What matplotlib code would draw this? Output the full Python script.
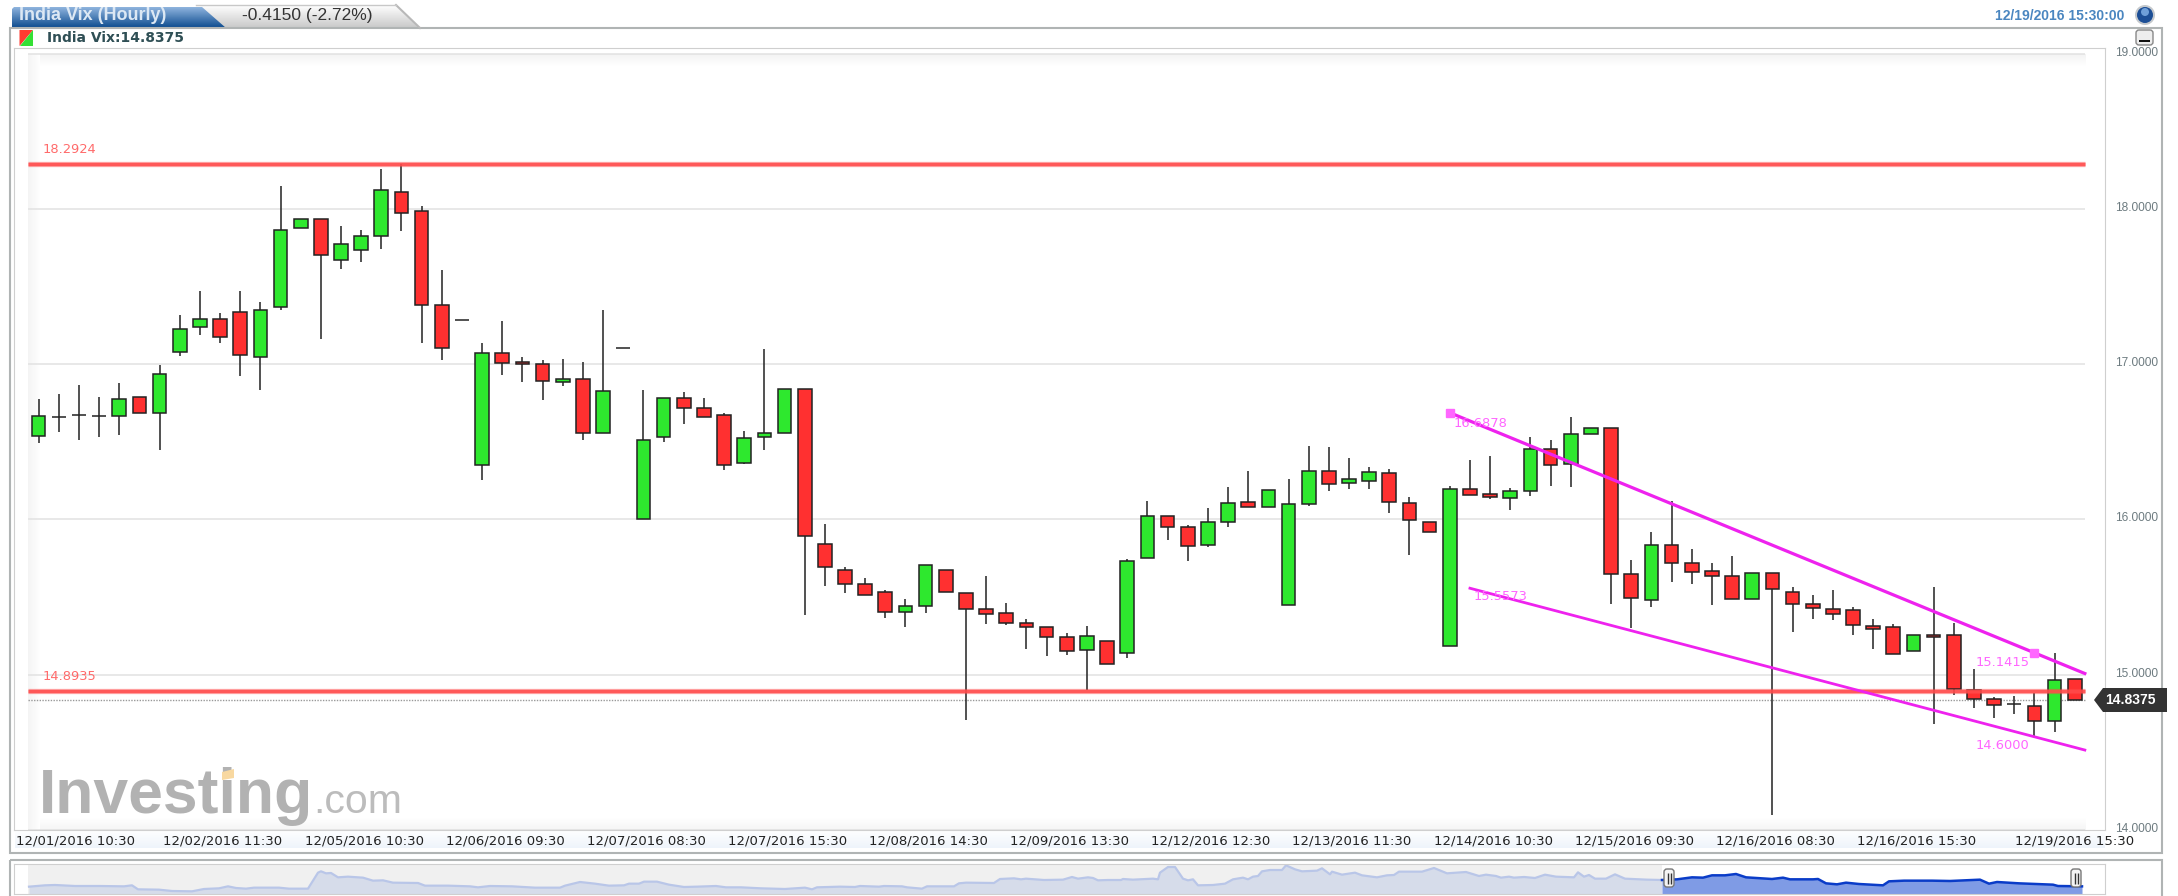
"""India Vix hourly candlesticks with support/resistance levels and a navigator strip."""
import matplotlib
matplotlib.use("Agg")
import matplotlib.pyplot as plt
import numpy as np
from matplotlib.colors import to_rgb
from matplotlib.patches import Circle, FancyBboxPatch, Polygon, Rectangle
from matplotlib.transforms import ScaledTranslation

W, H = 2178, 896

candle_open = [
    16.535, 16.660, 16.671, 16.665, 16.667, 16.789, 16.686, 17.082, 17.241, 17.292,
    17.335, 17.045, 17.366, 17.875, 17.933, 17.673, 17.738, 17.826, 18.110, 17.985,
    17.381, 17.286, 16.351, 17.073, 17.015, 17.002, 16.884, 16.908, 16.557, 17.105,
    16.000, 16.529, 16.783, 16.718, 16.674, 16.367, 16.534, 16.556, 16.839, 15.843,
    15.676, 15.582, 15.530, 15.406, 15.442, 15.676, 15.524, 15.421, 15.399, 15.333,
    15.305, 15.240, 15.159, 15.219, 15.137, 15.755, 16.024, 15.951, 15.835, 15.987,
    16.112, 16.082, 15.451, 16.097, 16.315, 16.234, 16.251, 16.300, 16.105, 15.985,
    15.184, 16.197, 16.167, 16.139, 16.184, 16.457, 16.355, 16.551, 16.588, 15.647,
    15.481, 15.835, 15.718, 15.667, 15.639, 15.487, 15.654, 15.530, 15.457, 15.421,
    15.415, 15.312, 15.306, 15.152, 15.256, 15.254, 14.900, 14.842, 14.812, 14.797,
    14.705, 14.972,
]
candle_high = [
    16.776, 16.806, 16.869, 16.789, 16.880, 16.789, 16.996, 17.320, 17.469, 17.331,
    17.469, 17.400, 18.148, 17.933, 17.933, 17.890, 17.862, 18.256, 18.288, 18.017,
    17.604, 17.286, 17.138, 17.280, 17.047, 17.026, 17.034, 17.017, 17.348, 17.105,
    16.837, 16.783, 16.824, 16.783, 16.685, 16.573, 17.101, 16.839, 16.839, 15.970,
    15.697, 15.620, 15.543, 15.487, 15.706, 15.676, 15.524, 15.637, 15.461, 15.358,
    15.305, 15.268, 15.311, 15.219, 15.747, 16.116, 16.024, 15.966, 16.077, 16.208,
    16.311, 16.193, 16.262, 16.474, 16.470, 16.395, 16.339, 16.326, 16.148, 15.985,
    16.214, 16.385, 16.412, 16.205, 16.530, 16.509, 16.662, 16.588, 16.588, 15.739,
    15.917, 16.120, 15.810, 15.718, 15.765, 15.654, 15.654, 15.568, 15.515, 15.545,
    15.436, 15.361, 15.327, 15.254, 15.564, 15.333, 15.034, 14.857, 14.863, 14.880,
    15.141, 14.972,
]
candle_low = [
    16.492, 16.561, 16.510, 16.531, 16.542, 16.686, 16.449, 17.052, 17.191, 17.138,
    16.923, 16.832, 17.348, 17.875, 17.163, 17.611, 17.660, 17.740, 17.858, 17.138,
    17.026, 17.286, 16.252, 16.933, 16.884, 16.772, 16.858, 16.514, 16.557, 17.105,
    16.000, 16.499, 16.617, 16.658, 16.320, 16.358, 16.449, 16.556, 15.386, 15.573,
    15.526, 15.515, 15.365, 15.307, 15.397, 15.530, 14.706, 15.324, 15.318, 15.165,
    15.122, 15.127, 14.903, 15.071, 15.107, 15.755, 15.869, 15.730, 15.822, 15.951,
    16.082, 16.082, 15.451, 16.088, 16.182, 16.197, 16.197, 16.045, 15.773, 15.919,
    15.184, 16.158, 16.135, 16.060, 16.150, 16.214, 16.209, 16.551, 15.457, 15.301,
    15.438, 15.600, 15.583, 15.447, 15.487, 15.487, 14.098, 15.274, 15.361, 15.355,
    15.259, 15.167, 15.132, 15.152, 14.682, 14.870, 14.788, 14.724, 14.750, 14.607,
    14.632, 14.8375,
]
candle_close = [
    16.665, 16.660, 16.671, 16.665, 16.776, 16.686, 16.935, 17.228, 17.292, 17.176,
    17.060, 17.348, 17.862, 17.933, 17.701, 17.774, 17.826, 18.123, 17.976, 17.381,
    17.103, 17.286, 17.073, 17.009, 17.002, 16.892, 16.908, 16.557, 16.826, 17.105,
    16.514, 16.783, 16.716, 16.658, 16.352, 16.526, 16.556, 16.839, 15.895, 15.691,
    15.582, 15.515, 15.401, 15.442, 15.706, 15.530, 15.421, 15.391, 15.333, 15.305,
    15.240, 15.152, 15.247, 15.071, 15.734, 16.024, 15.951, 15.828, 15.987, 16.105,
    16.082, 16.193, 16.097, 16.315, 16.227, 16.260, 16.309, 16.112, 15.996, 15.919,
    16.197, 16.158, 16.145, 16.182, 16.451, 16.348, 16.551, 16.588, 15.647, 15.494,
    15.835, 15.718, 15.660, 15.639, 15.487, 15.654, 15.551, 15.457, 15.429, 15.391,
    15.318, 15.297, 15.132, 15.254, 15.241, 14.906, 14.842, 14.806, 14.812, 14.699,
    14.966, 14.8375,
]

y_ticks = [14, 15, 16, 17, 18, 19]
x_tick_pos = [1.85, 9.15, 16.15, 23.15, 30.15, 37.15, 44.15, 51.15, 58.15, 65.15,
              72.15, 79.15, 86.15, 93.15, 101]
x_tick_labels = [
    "12/01/2016 10:30", "12/02/2016 11:30", "12/05/2016 10:30", "12/06/2016 09:30",
    "12/07/2016 08:30", "12/07/2016 15:30", "12/08/2016 14:30", "12/09/2016 13:30",
    "12/12/2016 12:30", "12/13/2016 11:30", "12/14/2016 10:30", "12/15/2016 09:30",
    "12/16/2016 08:30", "12/16/2016 15:30", "12/19/2016 15:30",
]

resistance = 18.2924
support = 14.8935
last_price = 14.8375

upper_x = [70, 101.5]
upper_y = [16.6878, 15.008]
upper_marker_x = [70, 99]
upper_marker_y = [16.6878, 15.1415]
lower_x = [71, 101.5]
lower_y = [15.5573, 14.515]

# navigator strip, y read as position in the strip (smaller is higher)
nav_x = [
    29, 45, 55, 75, 100, 124, 132, 138, 159, 172, 192, 204, 219, 228, 236, 246, 254, 279,
    289, 308, 318, 321, 326, 331, 338, 348, 363, 373, 383, 393, 418, 425, 448, 470, 478,
    490, 512, 535, 560, 565, 580, 595, 609, 624, 629, 639, 644, 657, 669, 684, 697, 716,
    726, 741, 761, 785, 805, 812, 817, 840, 855, 860, 879, 884, 902, 907, 922, 927, 954,
    959, 966, 994, 1000, 1014, 1021, 1026, 1044, 1063, 1072, 1078, 1088, 1093, 1098, 1108,
    1121, 1123, 1133, 1153, 1158, 1160, 1168, 1175, 1183, 1188, 1193, 1198, 1213, 1225,
    1233, 1243, 1248, 1253, 1258, 1262, 1270, 1282, 1286, 1295, 1302, 1317, 1322, 1330,
    1332, 1342, 1355, 1362, 1377, 1387, 1394, 1399, 1422, 1434, 1447, 1466, 1479, 1486,
    1496, 1501, 1509, 1514, 1524, 1535, 1545, 1556, 1574, 1578, 1584, 1589, 1595, 1606,
    1615, 1625, 1647, 1662, 1677, 1692, 1703, 1712, 1725, 1736, 1746, 1772, 1783, 1790,
    1813, 1818, 1826, 1837, 1846, 1859, 1883, 1889, 1904, 1932, 1950, 1980, 1989, 1997,
    2019, 2053, 2058, 2082,
]
nav_y = [
    92, 88, 87, 90, 90, 91, 88, 100, 101, 105, 106, 99, 97, 91, 96, 98, 95, 95,
    98, 98, 50, 46, 52, 51, 64, 62, 65, 74, 73, 80, 81, 89, 89, 91, 94,
    90, 91, 95, 95, 89, 78, 83, 89, 88, 83, 83, 77, 77, 86, 93, 92, 90,
    94, 94, 97, 99, 95, 100, 94, 92, 93, 90, 92, 90, 91, 94, 98, 91, 91,
    82, 80, 81, 69, 67, 70, 68, 72, 71, 63, 68, 64, 66, 73, 72,
    72, 69, 71, 68, 70, 50, 33, 33, 68, 73, 70, 88, 87, 83,
    70, 65, 70, 62, 60, 46, 42, 42, 28, 40, 46, 44, 37, 55,
    47, 56, 50, 58, 64, 58, 57, 47, 47, 36, 52, 48, 60, 56,
    60, 65, 62, 65, 63, 66, 56, 62, 64, 49, 62, 57, 68, 68,
    55, 68, 71, 72, 70, 64, 65, 58, 58, 54, 64, 69, 65, 70,
    70, 69, 82, 85, 80, 84, 88, 76, 74, 74, 75, 71, 83, 78,
    82, 86, 90, 91,
]
nav_split = 1662

GREEN = "#2ee82e"
RED = "#ff3030"
EDGE = "#222222"
MAGENTA = "#ee22ee"
PINK = "#ff66ff"
LEVEL = "#ff4a4a"


def px_axes(fig, left, top, right, bottom, **kw):
    return fig.add_axes([left / W, 1 - bottom / H, (right - left) / W, (bottom - top) / H], **kw)


def gradient(ax, left, top, right, bottom, c0, c1, horizontal=False, clip=None):
    t = np.linspace(0, 1, 64)
    rgb = np.outer(1 - t, to_rgb(c0)) + np.outer(t, to_rgb(c1))
    img = rgb[np.newaxis, :, :] if horizontal else rgb[:, np.newaxis, :]
    im = ax.imshow(img, extent=(left, right, bottom, top), aspect="auto", zorder=1,
                   interpolation="bilinear")
    if clip is not None:
        im.set_clip_path(clip)
    return im


fig = plt.figure(figsize=(W / 100, H / 100), dpi=100, facecolor="white")

# ── page furniture in pixel coordinates, under the chart ─────────────────────
bg = px_axes(fig, 0, 0, W, H, zorder=0)
bg.axis("off")

bg.add_patch(Rectangle((10, 28), 2152, 825, fill=False, ec="#b0b4b4", lw=1.5, zorder=2))
bg.add_patch(Rectangle((10, 860), 2152, 60, fill=False, ec="#b0b4b4", lw=1.5, zorder=2))

gradient(bg, 15, 830, 2105, 848, "#ffffff", "#eef4fb")
gradient(bg, 14, 54, 2086, 66, "#f3f3f3", "#ffffff")
gradient(bg, 14, 818, 2086, 830, "#ffffff", "#f5f5f5")
gradient(bg, 27, 54, 40, 830, "#f3f3f3", "#ffffff", horizontal=True)
bg.add_patch(Rectangle((14, 48), 14, 782, fc="white", ec="none", zorder=1.5))

tab2 = Polygon([(196, 5), (396, 5), (420, 28), (196, 28)], closed=True, transform=bg.transData)
gradient(bg, 196, 5, 420, 28, "#ffffff", "#c8c8c8", clip=tab2)
bg.plot([396, 420], [5, 28], color="#b8b8b8", lw=1.5, zorder=2)
bg.plot([196, 396], [5, 5], color="#c8c8c8", lw=1, zorder=2)
tab1 = Polygon([(12, 28), (12, 9), (14, 7), (202, 7), (226, 28)], closed=True, transform=bg.transData)
gradient(bg, 12, 7, 226, 28, "#8fb4de", "#0b4a8e", clip=tab1)

bg.text(19, 15.5, "India Vix (Hourly)", color="#dce8f4", fontsize=13, fontweight="bold",
        family="Liberation Sans", va="center", ha="left", zorder=3)
bg.text(242, 15.5, "-0.4150 (-2.72%)", color="#333333", fontsize=12.5,
        family="Liberation Sans", va="center", ha="left", zorder=3)
bg.text(1995, 16, "12/19/2016 15:30:00", color="#4a86c0", fontsize=10, fontweight="bold",
        family="Liberation Sans", va="center", ha="left", zorder=3)

bg.add_patch(Circle((2145, 15), 10, fc="#c4c8cc", ec="none", zorder=2))
bg.add_patch(Circle((2145, 15), 8, fc="#1d4f96", ec="none", zorder=3))
bg.add_patch(Circle((2145, 12), 4, fc="#6f9fd8", ec="none", zorder=4))
bg.add_patch(FancyBboxPatch((2137, 31), 15, 13, boxstyle="round,pad=1,rounding_size=3",
                            fc="#eeeeee", ec="#888888", lw=1, zorder=3))
bg.add_patch(Rectangle((2139, 40), 11, 2.5, fc="#111111", ec="none", zorder=4))

bg.add_patch(Polygon([(19.5, 30), (33, 30), (19.5, 46)], closed=True, fc="#ff3a30", ec="none", zorder=3))
bg.add_patch(Polygon([(33, 30), (33, 46), (19.5, 46)], closed=True, fc="#35e035", ec="none", zorder=3))
bg.text(47, 38, "India Vix:14.8375", color="#2f4f55", fontsize=10, fontweight="bold",
        va="center", ha="left", zorder=3)

bg.text(39, 813, "Investing", color="#b2b2b2", fontsize=45, fontweight="bold",
        family="Liberation Sans", va="baseline", ha="left", zorder=3)
bg.text(313, 813, ".com", color="#bcbcbc", fontsize=29.5,
        family="Liberation Sans", va="baseline", ha="left", zorder=3)
bg.add_patch(Polygon([(222, 772), (234, 769), (234, 778), (222, 780)], closed=True,
                     fc="#f8d8a0", ec="none", zorder=4))

bg.set_xlim(0, W)
bg.set_ylim(H, 0)

# ── candlesticks ─────────────────────────────────────────────────────────────
ax = px_axes(fig, 14, 48, 2105, 830, zorder=1)
ax.patch.set_alpha(0)
idx = np.arange(len(candle_open))
opens = np.array(candle_open)
closes = np.array(candle_close)
colors = [GREEN if c > o else RED for o, c in zip(opens, closes)]

ax.hlines(y_ticks, -0.55, 101.5, color="#e2e2e2", lw=1.1, zorder=1)
ax.hlines(last_price, -0.55, 101.5, color="#999999", lw=1, linestyles=(0, (1, 1)), zorder=1.5)
ax.vlines(idx, candle_low, candle_high, color=EDGE, lw=1.1, zorder=2)
ax.bar(idx, closes - opens, bottom=opens, width=0.68, color=colors, edgecolor=EDGE,
       linewidth=1.1, zorder=3)

for level in (resistance, support):
    ax.hlines(level, -0.55, 101.5, color=LEVEL, lw=3.8, alpha=0.45, zorder=4)
    ax.hlines(level, -0.55, 101.5, color=LEVEL, lw=2.4, alpha=0.85, zorder=4)

ax.plot(upper_x, upper_y, color=MAGENTA, lw=2.3, zorder=5)
ax.plot(lower_x, lower_y, color=MAGENTA, lw=2.0, zorder=5)
ax.plot(upper_marker_x, upper_marker_y, ls="none", marker="s", ms=5.5, color=PINK, zorder=6)

ax.annotate("18.2924", (-0.55, resistance), xytext=(11, 10), textcoords="offset points",
            color="#ff6a6a", fontsize=9.4, va="center", zorder=6)
ax.annotate("14.8935", (-0.55, support), xytext=(11, 11), textcoords="offset points",
            color="#ff6a6a", fontsize=9.4, va="center", zorder=6)
for label, lx, ly in [("16.6878", 70.2, 16.618), ("15.5573", 71.2, 15.505),
                      ("15.1415", 96.1, 15.08), ("14.6000", 96.1, 14.545)]:
    ax.text(lx, ly, label, color=PINK, fontsize=9.4, va="center", ha="left", zorder=6)

ax.set_xlim(-1.22, 102.5)
ax.set_ylim(14.002, 19.037)
ax.yaxis.tick_right()
ax.set_yticks(y_ticks)
ax.set_yticklabels([f"{v:.4f}" for v in y_ticks], family="Liberation Sans", fontsize=8.6,
                   color="#6d7b80")
ax.set_xticks(x_tick_pos)
ax.set_xticklabels(x_tick_labels, fontsize=9.5, color="#222222")
ax.tick_params(axis="both", length=0)
ax.tick_params(axis="y", pad=7)
ax.tick_params(axis="x", pad=3)
shift_up = ScaledTranslation(0, 2.5 / 100, fig.dpi_scale_trans)
for lbl in ax.get_yticklabels():
    lbl.set_transform(lbl.get_transform() + shift_up)
for spine in ax.spines.values():
    spine.set_color("#cfcfcf")

# ── navigator ────────────────────────────────────────────────────────────────
nav = px_axes(fig, 14, 864, 2105, 894, zorder=1)
nx = np.array(nav_x)
ny = np.array(nav_y)
nav.set_facecolor("#f0f0f0")
nav.axvspan(14, 28, color="white", lw=0, zorder=0.5)
nav.axvspan(nav_split, 2105, color="white", lw=0, zorder=0.5)
old = nx <= nav_split
new = nx >= nav_split
nav.fill_between(nx[old], ny[old], 114, color="#d6dcea", lw=0, zorder=1)
nav.fill_between(nx[new], ny[new], 114, color="#7f9be5", lw=0, zorder=1)
nav.plot(nx[old], ny[old], color="#b9c6e8", lw=1.6, zorder=2)
nav.plot(nx[new], ny[new], color="#0a3cc8", lw=1.8, zorder=2)
nav.set_xlim(14, 2105)
nav.set_ylim(114, 24)
nav.set_xticks([])
nav.set_yticks([])
for spine in nav.spines.values():
    spine.set_color("#cfcfcf")

# ── things on top: price tag and navigator handles ───────────────────────────
fg = px_axes(fig, 0, 0, W, H, zorder=3)
fg.axis("off")
fg.patch.set_alpha(0)
fg.add_patch(Polygon([(2094, 700), (2103, 688), (2167, 688), (2167, 712), (2103, 712)],
                     closed=True, fc="#333333", ec="none"))
fg.text(2105, 700, "14.8375", color="white", fontsize=10, fontweight="bold",
        family="Liberation Sans", va="center", ha="left")
for hx in (1669, 2076):
    fg.add_patch(FancyBboxPatch((hx - 4, 870), 8, 16, boxstyle="round,pad=1,rounding_size=3",
                                fc="#f4f4f4", ec="#777777", lw=1))
    fg.vlines([hx - 1.5, hx + 1.5], 873, 884, color="#333333", lw=1)
fg.set_xlim(0, W)
fg.set_ylim(H, 0)

fig.savefig("out.png", dpi=100)
plt.close(fig)
